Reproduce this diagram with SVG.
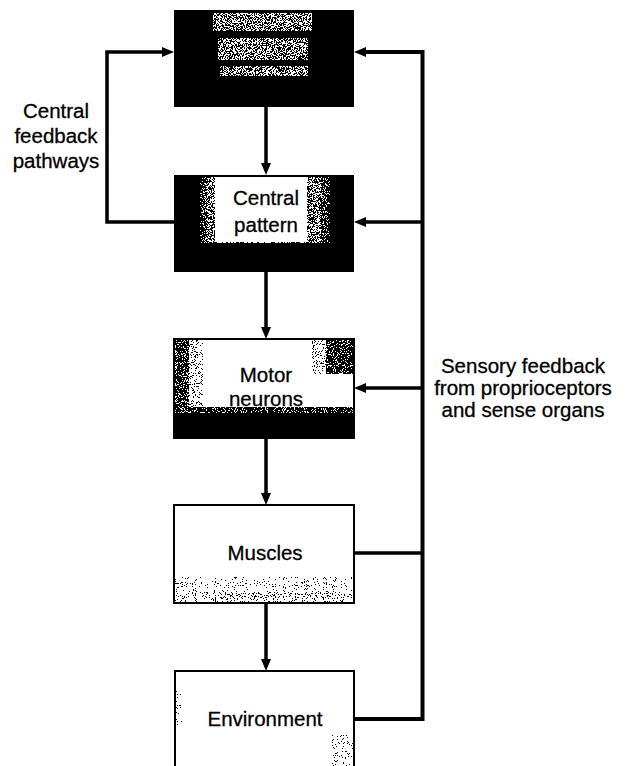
<svg xmlns="http://www.w3.org/2000/svg" width="625" height="766" viewBox="0 0 625 766">
<style>
  .lbl { font-family: "Liberation Sans", Arial, sans-serif; font-size: 20.5px; fill: #000; text-anchor: middle; stroke: #000; stroke-width: 0.3; }
  .conn { fill: none; stroke: #000; stroke-width: 3.5; stroke-linejoin: miter; }
  .box { fill: #fff; stroke: #000; stroke-width: 2; }
</style>
<defs>
  <marker id="ah" viewBox="0 0 12 10" refX="4" refY="5" markerWidth="12" markerHeight="10" orient="auto" markerUnits="userSpaceOnUse">
    <path d="M0,0 L12,5 L0,10 z" fill="#000"/>
  </marker>
  <filter id="dense" x="0" y="0" width="100%" height="100%">
    <feTurbulence type="fractalNoise" baseFrequency="0.9" numOctaves="2" seed="4"/>
    <feColorMatrix type="saturate" values="0"/>
    <feComponentTransfer>
      <feFuncR type="linear" slope="3.5" intercept="-1.25"/>
      <feFuncG type="linear" slope="3.5" intercept="-1.25"/>
      <feFuncB type="linear" slope="3.5" intercept="-1.25"/>
    </feComponentTransfer>
    <feComponentTransfer>
      <feFuncR type="discrete" tableValues="0 1"/>
      <feFuncG type="discrete" tableValues="0 1"/>
      <feFuncB type="discrete" tableValues="0 1"/>
      <feFuncA type="discrete" tableValues="1"/>
    </feComponentTransfer>
    <feComposite operator="in" in2="SourceGraphic"/>
  </filter>
  <filter id="sparse" x="0" y="0" width="100%" height="100%">
    <feTurbulence type="fractalNoise" baseFrequency="0.9" numOctaves="2" seed="9"/>
    <feColorMatrix type="saturate" values="0"/>
    <feComponentTransfer>
      <feFuncR type="linear" slope="3.5" intercept="-1.25"/>
      <feFuncG type="linear" slope="3.5" intercept="-1.25"/>
      <feFuncB type="linear" slope="3.5" intercept="-1.25"/>
    </feComponentTransfer>
    <feComponentTransfer>
      <feFuncR type="discrete" tableValues="0 1 1 1 1"/>
      <feFuncG type="discrete" tableValues="0 1 1 1 1"/>
      <feFuncB type="discrete" tableValues="0 1 1 1 1"/>
      <feFuncA type="discrete" tableValues="1"/>
    </feComponentTransfer>
    <feComposite operator="in" in2="SourceGraphic"/>
  </filter>
  <filter id="faint" x="0" y="0" width="100%" height="100%">
    <feTurbulence type="fractalNoise" baseFrequency="0.9" numOctaves="2" seed="7"/>
    <feColorMatrix type="saturate" values="0"/>
    <feComponentTransfer>
      <feFuncR type="linear" slope="3.5" intercept="-1.25"/>
      <feFuncG type="linear" slope="3.5" intercept="-1.25"/>
      <feFuncB type="linear" slope="3.5" intercept="-1.25"/>
    </feComponentTransfer>
    <feComponentTransfer>
      <feFuncR type="discrete" tableValues="0 1 1 1 1 1 1 1 1 1"/>
      <feFuncG type="discrete" tableValues="0 1 1 1 1 1 1 1 1 1"/>
      <feFuncB type="discrete" tableValues="0 1 1 1 1 1 1 1 1 1"/>
      <feFuncA type="discrete" tableValues="1"/>
    </feComponentTransfer>
    <feComposite operator="in" in2="SourceGraphic"/>
  </filter>
  <filter id="darkish" x="0" y="0" width="100%" height="100%">
    <feTurbulence type="fractalNoise" baseFrequency="0.9" numOctaves="2" seed="2"/>
    <feColorMatrix type="saturate" values="0"/>
    <feComponentTransfer>
      <feFuncR type="linear" slope="3.5" intercept="-1.25"/>
      <feFuncG type="linear" slope="3.5" intercept="-1.25"/>
      <feFuncB type="linear" slope="3.5" intercept="-1.25"/>
    </feComponentTransfer>
    <feComponentTransfer>
      <feFuncR type="discrete" tableValues="0 0 0 1"/>
      <feFuncG type="discrete" tableValues="0 0 0 1"/>
      <feFuncB type="discrete" tableValues="0 0 0 1"/>
      <feFuncA type="discrete" tableValues="1"/>
    </feComponentTransfer>
    <feComposite operator="in" in2="SourceGraphic"/>
  </filter>
</defs>

<g id="connectors">
  <path class="conn" d="M266,107 V167" marker-end="url(#ah)"/>
  <path class="conn" d="M266,272 V331" marker-end="url(#ah)"/>
  <path class="conn" d="M266,438 V497" marker-end="url(#ah)"/>
  <path class="conn" d="M266,603 V663" marker-end="url(#ah)"/>
  <path class="conn" d="M174,222 H107 V52 H166" marker-end="url(#ah)"/>
  <path class="conn" d="M354,719 H422.5 V52 H362" marker-end="url(#ah)" style="stroke-width:4"/>
  <path class="conn" d="M354,553 H422"/>
  <path class="conn" d="M422,222 H362" marker-end="url(#ah)"/>
  <path class="conn" d="M422,388 H362" marker-end="url(#ah)"/>
</g>

<g id="node-top">
  <rect x="174" y="10" width="180" height="97" fill="#000"/>
  <rect x="213" y="13" width="99" height="18" fill="#000" filter="url(#dense)"/>
  <rect x="218" y="38" width="90" height="22" fill="#000" filter="url(#dense)"/>
  <rect x="220" y="66" width="88" height="10" fill="#000" filter="url(#dense)"/>
</g>

<g id="node-central-pattern">
  <rect x="174" y="175" width="180" height="97" fill="#000"/>
  <rect x="200" y="177" width="130" height="66" fill="#000" filter="url(#darkish)"/>
  <rect x="207" y="177" width="114" height="66" fill="#000" filter="url(#dense)"/>
  <rect x="215" y="177" width="92" height="65" fill="#fff"/>
  <text class="lbl" x="266" y="205">Central</text>
  <text class="lbl" x="266" y="232">pattern</text>
</g>

<g id="node-motor-neurons">
  <rect x="174" y="339" width="180" height="99" class="box"/>
  <rect x="175" y="340" width="14" height="70" fill="#000" filter="url(#darkish)"/>
  <rect x="189" y="340" width="14" height="70" fill="#000" filter="url(#sparse)"/>
  <rect x="326" y="340" width="27" height="34" fill="#000" filter="url(#darkish)"/>
  <rect x="312" y="340" width="14" height="34" fill="#000" filter="url(#sparse)"/>
  <rect x="175" y="407" width="178" height="6" fill="#000" filter="url(#darkish)"/>
  <rect x="175" y="413" width="178" height="25" fill="#000"/>
  <text class="lbl" x="266" y="382">Motor</text>
  <text class="lbl" x="266" y="406">neurons</text>
</g>

<g id="node-muscles">
  <rect x="174" y="505" width="180" height="98" class="box"/>
  <rect x="175" y="577" width="178" height="25" fill="#000" filter="url(#faint)"/>
  <rect x="175" y="593" width="178" height="9" fill="#000" filter="url(#sparse)"/>
  <text class="lbl" x="265" y="560">Muscles</text>
</g>

<g id="node-environment">
  <path d="M175,766 V671 H354 V766" class="box"/>
  <rect x="176" y="690" width="6" height="40" fill="#000" filter="url(#faint)"/>
  <rect x="332" y="735" width="21" height="31" fill="#000" filter="url(#faint)"/>
  <text class="lbl" x="265" y="726">Environment</text>
</g>

<g id="labels">
  <text class="lbl" x="56" y="118">Central</text>
  <text class="lbl" x="56" y="143">feedback</text>
  <text class="lbl" x="56" y="168">pathways</text>
  <text class="lbl" x="523" y="373">Sensory feedback</text>
  <text class="lbl" x="523" y="395">from proprioceptors</text>
  <text class="lbl" x="523" y="417">and sense organs</text>
</g>
</svg>
